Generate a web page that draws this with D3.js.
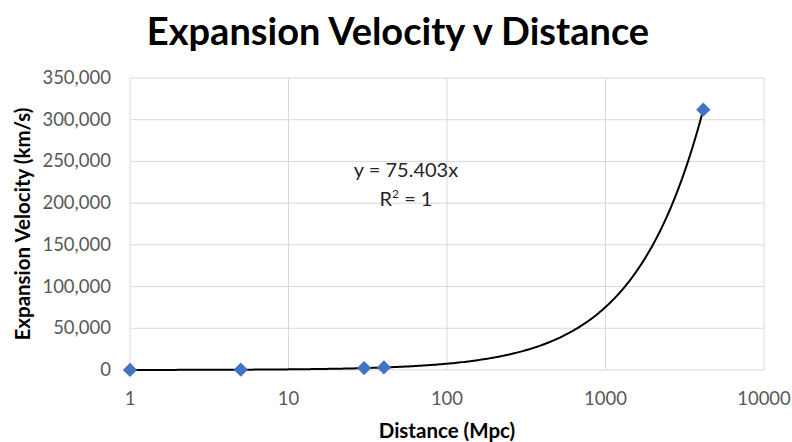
<!DOCTYPE html>
<html>
<head>
<meta charset="utf-8">
<script src="https://cdn.jsdelivr.net/npm/d3@7"></script>
<style>
  body { margin: 0; background: #fff; }
  text { font-family: Lato, "Open Sans", sans-serif; }
</style>
</head>
<body>
<svg id="chart" width="792" height="442"></svg>
<script>
// data
var distances = [1, 5, 30, 40, 4140];
var velocities = [75, 377, 2262, 3016, 312000];
var xTicks = [1, 10, 100, 1000, 10000];
var yTicks = [0, 50000, 100000, 150000, 200000, 250000, 300000, 350000];
var slope = 75.403; // trendline y = 75.403x

var svg = d3.select('#chart');
var margin = {left: 130, right: 28, top: 78, bottom: 72};
var W = 792, H = 442;

var x = d3.scaleLog().domain([1, 10000]).range([margin.left, W - margin.right]);
var y = d3.scaleLinear().domain([0, 350000]).range([H - margin.bottom, margin.top]);

var gridColor = '#d9d9d9';

// gridlines
svg.append('g').selectAll('line.h').data(yTicks).enter().append('line')
  .attr('x1', x(1)).attr('x2', x(10000))
  .attr('y1', function(d){ return y(d); }).attr('y2', function(d){ return y(d); })
  .attr('stroke', gridColor).attr('stroke-width', 1);

svg.append('g').selectAll('line.v').data(xTicks).enter().append('line')
  .attr('y1', y(0)).attr('y2', y(350000))
  .attr('x1', function(d){ return x(d); }).attr('x2', function(d){ return x(d); })
  .attr('stroke', gridColor).attr('stroke-width', 1);

// tick labels
var fmt = d3.format(',');
svg.append('g').selectAll('text').data(yTicks).enter().append('text')
  .attr('x', x(1) - 19).attr('y', function(d){ return y(d) + 6; })
  .attr('text-anchor', 'end').attr('font-size', 18.5).attr('fill', '#595959')
  .text(function(d){ return fmt(d); });

svg.append('g').selectAll('text').data(xTicks).enter().append('text')
  .attr('x', function(d){ return x(d); }).attr('y', y(0) + 35)
  .attr('text-anchor', 'middle').attr('font-size', 18.5).attr('fill', '#595959')
  .text(function(d){ return d; });

// trendline (linear fit through origin, drawn on the log axis)
var trend = d3.range(0, 301).map(function(i){
  var t = Math.log10(distances[0]) + i / 300 * (Math.log10(distances[distances.length - 1]) - Math.log10(distances[0]));
  var xv = Math.pow(10, t);
  return [xv, slope * xv];
});
svg.append('path').datum(trend)
  .attr('d', d3.line().x(function(d){ return x(d[0]); }).y(function(d){ return y(d[1]); }))
  .attr('fill', 'none').attr('stroke', '#000').attr('stroke-width', 2);

// markers
svg.append('g').selectAll('path').data(distances).enter().append('path')
  .attr('d', d3.symbol().type(d3.symbolDiamond2).size(130))
  .attr('transform', function(d, i){ return 'translate(' + x(d) + ',' + y(velocities[i]) + ')'; })
  .attr('fill', '#4472c4');

// trendline label
svg.append('text').attr('x', 406).attr('y', 177).attr('text-anchor', 'middle')
  .attr('font-size', 20).attr('fill', '#262626').text('y = 75.403x');
svg.append('text').attr('x', 406).attr('y', 206).attr('text-anchor', 'middle')
  .attr('font-size', 20).attr('fill', '#262626')
  .html('R<tspan font-size="12" dy="-8">2</tspan><tspan dy="8"> = 1</tspan>');

// titles
svg.append('text').attr('x', 398).attr('y', 45).attr('text-anchor', 'middle')
  .attr('font-size', 38).attr('font-weight', 'bold').attr('fill', '#000')
  .text('Expansion Velocity v Distance');

svg.append('text').attr('x', 447).attr('y', 438).attr('text-anchor', 'middle')
  .attr('font-size', 20.5).attr('font-weight', 'bold').attr('fill', '#000')
  .text('Distance (Mpc)');

svg.append('text').attr('transform', 'translate(30,' + ((y(0) + y(350000)) / 2) + ') rotate(-90)')
  .attr('text-anchor', 'middle')
  .attr('font-size', 20.5).attr('font-weight', 'bold').attr('fill', '#000')
  .text('Expansion Velocity (km/s)');
</script>
</body>
</html>
